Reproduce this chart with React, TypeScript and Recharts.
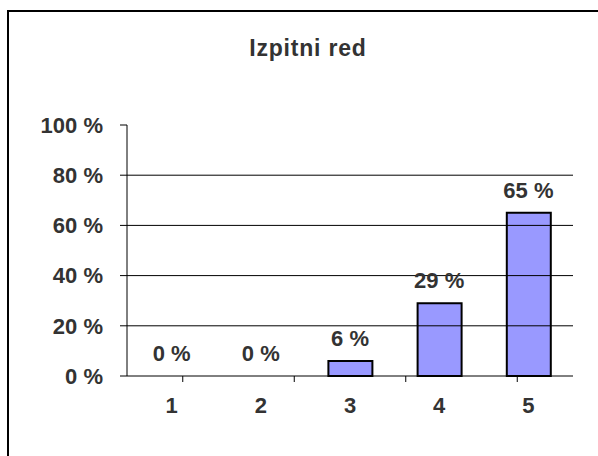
import { ComposedChart, Bar, Line, XAxis, YAxis, ReferenceLine, LabelList } from "recharts";

const title = "Izpitni red";
const grades = ["1", "2", "3", "4", "5"];
const shares = [0, 0, 6, 29, 65];
const yTicks = [0, 20, 40, 60, 80, 100];
const gridValues = [20, 40, 60, 80];
const bandEdges = [0.5, 1.5, 2.5, 3.5, 4.5, 5.5];

const data = grades.map((g, i) => ({ grade: g, value: shares[i] }));

const font = "'Liberation Sans', Arial, sans-serif";
const textColor = "#333333";
const tickFont = { fill: textColor, fontSize: 22, fontWeight: "bold", fontFamily: font };

export default function App() {
  return (
    <div
      style={{
        position: "absolute",
        left: 0,
        top: 0,
        width: 598,
        height: 456,
        overflow: "hidden",
        background: "#fff",
        fontFamily: font,
      }}
    >
      <div
        style={{
          position: "absolute",
          left: 7,
          top: 10,
          width: 620,
          height: 480,
          border: "2px solid #000",
          boxSizing: "border-box",
        }}
      />
      <div
        style={{
          position: "absolute",
          left: 158,
          top: 35,
          width: 300,
          textAlign: "center",
          fontSize: 23,
          letterSpacing: 0.8,
          fontWeight: "bold",
          color: textColor,
        }}
      >
        {title}
      </div>
      <div style={{ position: "absolute", left: 0, top: 0 }}>
        <ComposedChart
          width={598}
          height={456}
          data={data}
          margin={{ top: 125, right: 25, left: 67, bottom: 42 }}
        >
          <XAxis
            xAxisId="b_cat"
            dataKey="grade"
            height={30}
            axisLine={false}
            tickLine={false}
            tickSize={0}
            tickMargin={13}
            tick={tickFont}
          />
          <XAxis
            xAxisId="a_edges"
            type="number"
            domain={[0.5, 5.5]}
            ticks={bandEdges}
            allowDataOverflow
            height={8}
            tickSize={6}
            stroke="#000"
            tickLine={{ stroke: "#000" }}
            tick={() => <g />}
          />
          <YAxis
            domain={[0, 100]}
            ticks={yTicks}
            width={60}
            tickSize={7}
            tickMargin={17}
            stroke="#000"
            tickFormatter={(v) => `${v} %`}
            tick={tickFont}
          />
          {gridValues.map((v) => (
            <ReferenceLine key={v} y={v} xAxisId="b_cat" stroke="#000" strokeWidth={1} />
          ))}
          <Bar
            dataKey="value"
            xAxisId="b_cat"
            barSize={44}
            fill="#9999ff"
            stroke="#000"
            strokeWidth={2}
            isAnimationActive={false}
          />
          <Line
            dataKey="value"
            xAxisId="b_cat"
            stroke="none"
            dot={false}
            activeDot={false}
            isAnimationActive={false}
          >
            <LabelList
              dataKey="value"
              position="top"
              offset={15}
              formatter={(v: number) => `${v} %`}
              fill={textColor}
              fontSize={22}
              fontWeight="bold"
              fontFamily={font}
            />
          </Line>
        </ComposedChart>
      </div>
    </div>
  );
}
